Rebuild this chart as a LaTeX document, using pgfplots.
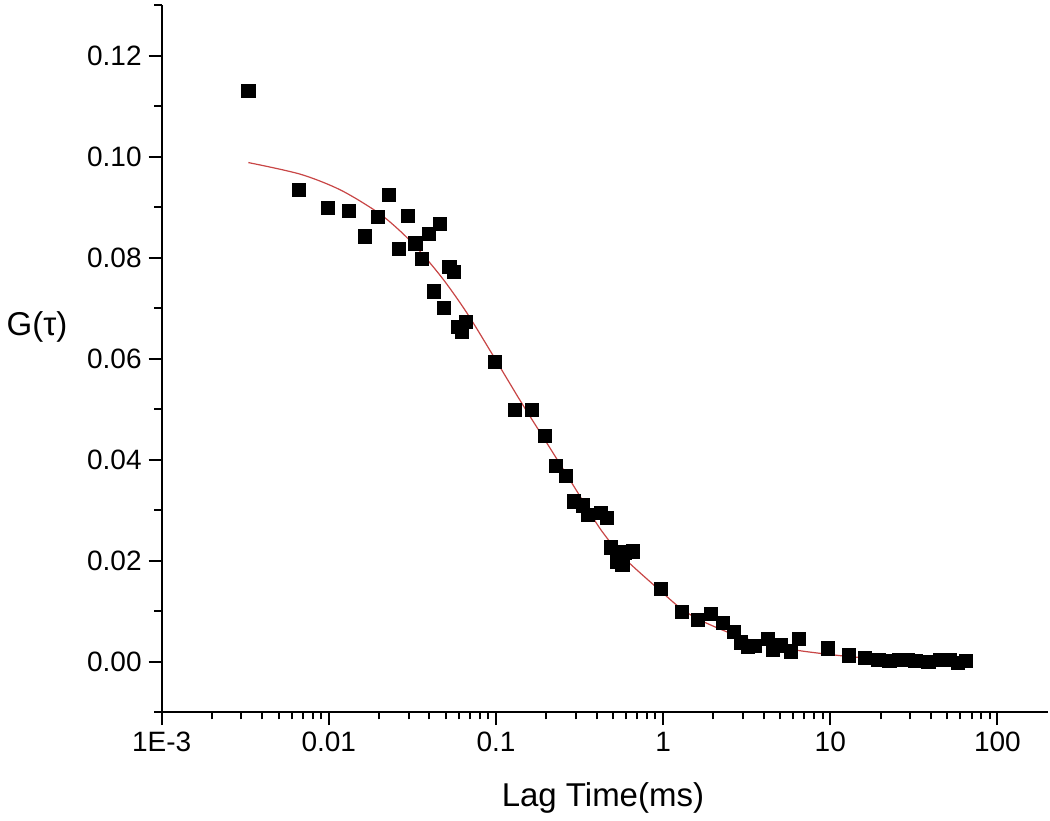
\documentclass[border=0pt]{standalone}
\usepackage{pgfplots}
\pgfplotsset{compat=1.18}
\usepackage{fontspec}
\setmainfont{Liberation Sans}
\definecolor{fitred}{RGB}{200,70,70}
\begin{document}
\begin{tikzpicture}
\begin{axis}[
  scale only axis,
  width=443pt, height=353.5pt,
  xmode=log,
  xmin=1e-3, xmax=200,
  ymin=-0.01, ymax=0.13,
  axis x line*=bottom, axis y line*=left,
  axis line style={-, line width=1pt},
  every tick/.style={black, line width=1pt},
  tick align=outside,
  xtick pos=bottom, ytick pos=left,
  major tick length=6.5pt, minor tick length=3.7pt,
  xtick={0.001,0.01,0.1,1,10,100},
  xticklabels={1E-3,0.01,0.1,1,10,100},
  ytick={0,0.02,0.04,0.06,0.08,0.10,0.12},
  minor ytick={-0.01,0.01,0.03,0.05,0.07,0.09,0.11,0.13},
  yticklabel style={/pgf/number format/.cd, fixed, fixed zerofill, precision=2, assume math mode=true},
  ticklabel style={font=\fontsize{14}{17}\selectfont},
  scaled y ticks=false,
  clip=false,
  xlabel={Lag Time(ms)},
  ylabel={G(τ)},
  every axis x label/.style={at={(rel axis cs:0.498,-0.122)}, anchor=center, font=\fontsize{16.5}{20}\selectfont},
  every axis y label/.style={at={(rel axis cs:-0.1407,0.544)}, anchor=center, font=\fontsize{16.5}{20}\selectfont},
]
\path (rel axis cs:-0.1825,-0.1532) rectangle (rel axis cs:1.0026,1.0071);
\addplot[only marks, mark=square*, mark size=3.3pt, black] table {
x y
0.00330 0.1130
0.00659 0.0934
0.00989 0.0898
0.0132 0.0892
0.0165 0.0842
0.0197 0.0881
0.0230 0.0924
0.0262 0.0817
0.0296 0.0883
0.0330 0.0828
0.0362 0.0797
0.0395 0.0847
0.0427 0.0733
0.0461 0.0867
0.0488 0.0700
0.0526 0.0782
0.0563 0.0771
0.0592 0.0663
0.0625 0.0652
0.0658 0.0673
0.0983 0.0594
0.130 0.0498
0.164 0.0498
0.197 0.0446
0.228 0.0388
0.262 0.0368
0.291 0.0317
0.330 0.0309
0.356 0.0290
0.424 0.0294
0.461 0.0284
0.487 0.0226
0.527 0.0198
0.570 0.0191
0.591 0.0216
0.657 0.0218
0.971 0.0144
1.30 0.0099
1.61 0.0083
1.94 0.0095
2.29 0.0076
2.65 0.0058
2.93 0.0038
3.21 0.0030
3.52 0.0031
4.24 0.0045
4.54 0.0023
5.09 0.0032
5.79 0.0020
6.47 0.0045
9.70 0.0026
12.9 0.0012
16.1 0.0007
19.4 0.0003
22.6 0.0002
25.8 0.0004
29.0 0.0003
32.3 0.0001
38.7 0.0000
45.2 0.0004
51.6 0.0003
58.0 -0.0003
64.5 0.0001
};
\addplot[fitred, line width=0.6pt, smooth, no marks] table {
x y
0.0033 0.0988
0.00675 0.0965
0.0117 0.0934
0.0195 0.0890
0.0268 0.0852
0.0354 0.0811
0.0488 0.0755
0.0674 0.0689
0.0973 0.0603
0.1406 0.0515
0.213 0.0420
0.308 0.0335
0.424 0.0261
0.585 0.0205
0.971 0.0139
1.28 0.0105
1.69 0.0081
2.67 0.0053
4.24 0.0033
6.71 0.0021
12.8 0.0010
20 0.0006
35 0.0003
66 0.0001
};
\end{axis}
\end{tikzpicture}
\end{document}
